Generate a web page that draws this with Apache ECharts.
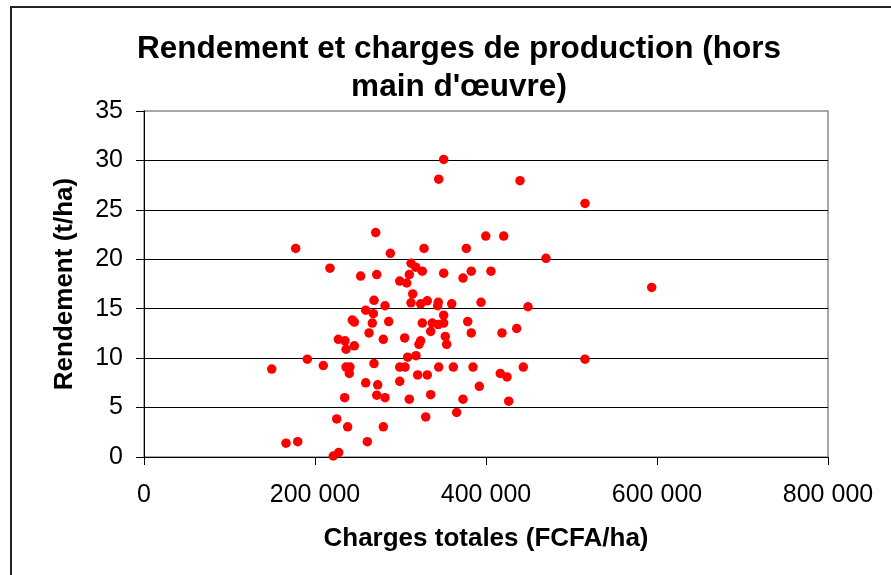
<!DOCTYPE html>
<html>
<head>
<meta charset="utf-8">
<script src="https://cdn.jsdelivr.net/npm/echarts@6/dist/echarts.min.js"></script>
<style>html,body{margin:0;padding:0;background:#fff;}#c{width:891px;height:575px;}</style>
</head>
<body>
<div id="c"></div>
<script>
const titleText = "Rendement et charges de production (hors\nmain d'œuvre)";
const xName = "Charges totales (FCFA/ha)";
const yName = "Rendement (t/ha)";
const xTicks = [0, 200000, 400000, 600000, 800000];
const yTicks = [0, 5, 10, 15, 20, 25, 30, 35];

const charges = [
  271000,177400,217500,253400,272200,269000,259300,268200,267000,243600,246000,263200,227300,235100,236300,246000,191000,149400,209700,236300,240900,240100,269000,259300,273300,272200,234700,225400,238200,166100,179800,261200,221400,227700,
  350500,344700,439800,515800,399700,420700,288100,327500,377000,470200,312300,317800,325500,310300,350500,382800,373100,405800,299100,307300,314300,312300,323600,331300,344200,343500,359900,394200,449100,281900,
  286200,325500,337200,344200,350500,350500,335300,378600,382800,418700,435900,352400,354000,304900,323600,321600,279900,308400,318100,
  299100,305300,344700,361800,384800,443600,515800,320100,331300,416700,424600,299100,392200,281900,310300,335300,373100,426600,329500,365700,279900,593800
];
const rendement = [
  22.7,21.1,19.1,18.3,18.45,15.85,14.85,14.5,13.55,13.85,13.65,12.55,11.9,11.75,10.9,11.25,9.9,8.9,9.25,9.1,9.1,8.45,9.45,7.5,7.3,6.25,6.0,3.85,3.05,1.4,1.55,1.55,0.1,0.45,
  30.1,28.1,27.95,25.65,22.35,22.35,20.6,21.1,21.1,20.1,19.6,19.2,18.8,18.45,18.6,18.8,18.1,18.8,17.8,17.6,16.5,15.6,15.5,15.8,15.65,15.3,15.5,15.65,15.2,15.3,
  13.7,13.55,13.55,13.4,13.55,14.35,12.7,13.7,12.55,12.55,13.0,12.2,11.4,12.05,11.75,11.4,11.9,10.1,10.25,
  9.1,9.1,9.1,9.1,9.1,9.1,9.9,8.3,8.3,8.45,8.1,7.65,7.15,6.0,5.85,6.3,5.85,5.65,4.05,4.5,3.05,17.15
];

const points = charges.map((c, i) => [c, rendement[i]]);
const FONT = '"Liberation Sans", Arial, sans-serif';

function fmt(v) {
  return String(v).replace(/\B(?=(\d{3})+(?!\d))/g, ' ');
}

const chart = echarts.init(document.getElementById('c'), null, {renderer: 'canvas'});
chart.setOption({
  animation: false,
  backgroundColor: '#ffffff',
  title: {
    text: titleText,
    left: 454,
    top: 25,
    textAlign: 'center',
    textStyle: {fontFamily: FONT, fontSize: 31.5, fontWeight: 'bold', color: '#000', lineHeight: 38}
  },
  graphic: [{
    type: 'rect',
    shape: {x: 11, y: 7, width: 900, height: 600},
    style: {fill: 'none', stroke: '#222', lineWidth: 2},
    silent: true
  }],
  grid: {
    left: 144, right: 63, top: 111, bottom: 118,
    show: true, borderColor: '#8c8c8c', borderWidth: 1.5, backgroundColor: '#fff'
  },
  xAxis: {
    type: 'value',
    min: xTicks[0], max: xTicks[xTicks.length - 1], interval: 200000,
    name: xName, nameLocation: 'middle', nameGap: 69,
    nameTextStyle: {fontFamily: FONT, fontSize: 26, fontWeight: 'bold', color: '#000'},
    axisLine: {show: true, lineStyle: {color: '#000', width: 1}},
    axisTick: {show: true, inside: false, length: 8, lineStyle: {color: '#000'}},
    axisLabel: {fontFamily: FONT, fontSize: 25, color: '#000', margin: 26, formatter: fmt},
    splitLine: {show: false}
  },
  yAxis: {
    type: 'value',
    min: yTicks[0], max: yTicks[yTicks.length - 1], interval: 5,
    name: yName, nameLocation: 'middle', nameGap: 66, nameRotate: 90,
    nameTextStyle: {fontFamily: FONT, fontSize: 26, fontWeight: 'bold', color: '#000'},
    axisLine: {show: true, lineStyle: {color: '#000', width: 1}},
    axisTick: {show: true, inside: false, length: 8, lineStyle: {color: '#000'}},
    axisLabel: {fontFamily: FONT, fontSize: 25, color: '#000', margin: 21},
    splitLine: {show: true, showMinLine: false, showMaxLine: false, lineStyle: {color: '#000', width: 1}}
  },
  series: [{
    type: 'scatter',
    data: points,
    symbol: 'circle',
    symbolSize: 9.5,
    itemStyle: {color: '#ff0000', opacity: 1}
  }]
});
</script>
</body>
</html>
